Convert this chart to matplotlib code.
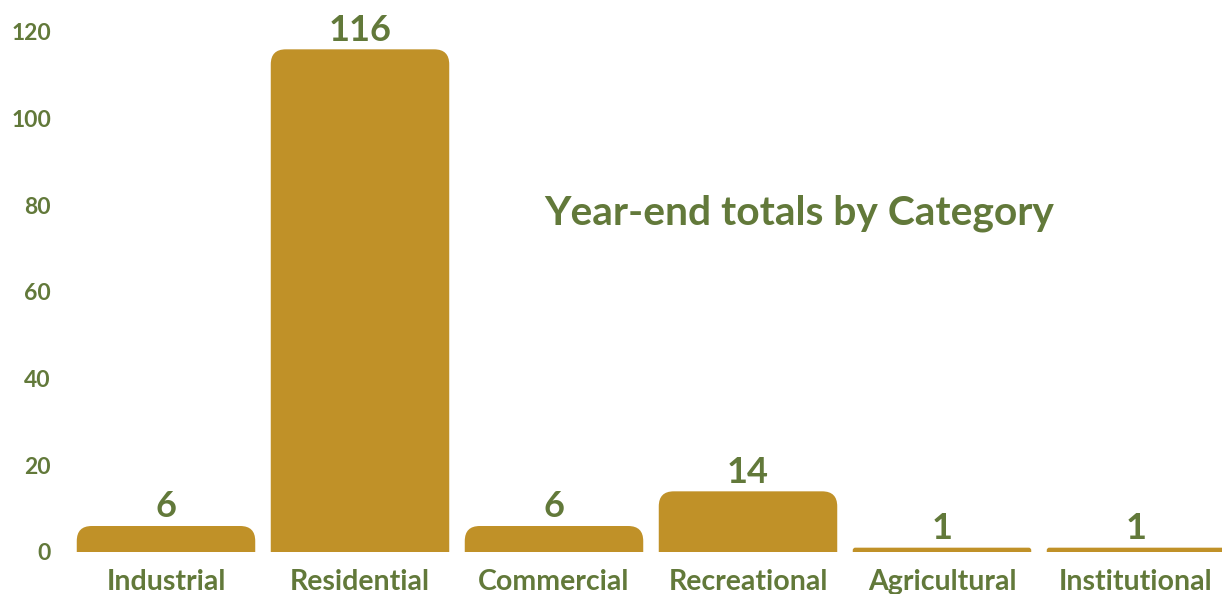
import matplotlib
matplotlib.use("Agg")
import matplotlib.pyplot as plt
from matplotlib.patches import FancyBboxPatch

categories = ["Industrial", "Residential", "Commercial", "Recreational", "Agricultural", "Institutional"]
totals = [6, 116, 6, 14, 1, 1]
y_ticks = [0, 20, 40, 60, 80, 100, 120]

GREEN = "#62793a"
GOLD = "#c09128"
DPI = 100
W, H = 1222, 594

plt.rcParams["font.family"] = ["Lato", "DejaVu Sans"]
plt.rcParams["font.weight"] = "bold"

fig = plt.figure(figsize=(W / DPI, H / DPI), dpi=DPI)
# axes runs a little past the right edge, last bar is cut in the original
ax_left, ax_right, ax_bottom, ax_top = 69, 1233, 552, 32
ax = fig.add_axes([ax_left / W, 1 - ax_bottom / H, (ax_right - ax_left) / W, (ax_bottom - ax_top) / H])

x = list(range(len(categories)))
bars = ax.bar(x, totals, width=0.92, color=GOLD)
ax.set_xlim(-0.5, len(categories) - 0.5)
ax.set_ylim(0, 120)

# swap plain bars for ones with rounded tops
px_per_x = (ax_right - ax_left) / (len(categories))
px_per_y = (ax_bottom - ax_top) / 120
aspect = px_per_x / px_per_y
for b in bars:
    bx, bw, bh = b.get_x(), b.get_width(), b.get_height()
    r_y = min(15 / px_per_y, bh * 0.6)
    r_x = r_y / aspect
    p = FancyBboxPatch((bx, -r_y), bw, bh + r_y,
                       boxstyle=f"round,pad=0,rounding_size={r_x}",
                       mutation_aspect=aspect, facecolor=GOLD, edgecolor="none",
                       clip_on=True)
    ax.add_patch(p)
    b.remove()
    ax.annotate(str(bh if bh != int(bh) else int(bh)), (bx + bw / 2, bh),
                xytext=(0, 2), textcoords="offset points", ha="center", va="bottom",
                fontsize=26, fontweight="bold", color=GREEN, annotation_clip=False)

ax.set_yticks(y_ticks)
ax.set_xticks(x)
ax.set_xticklabels(categories)
ax.tick_params(axis="y", length=0, pad=13, labelsize=16.5, labelcolor=GREEN)
ax.tick_params(axis="x", length=0, pad=12, labelsize=20.5, labelcolor=GREEN)
for lab in ax.get_xticklabels() + ax.get_yticklabels():
    lab.set_fontweight("bold")
for s in ax.spines.values():
    s.set_visible(False)

fig.text(799 / W, 1 - 213 / H, "Year-end totals by Category", ha="center", va="center",
         fontsize=29.3, fontweight="bold", color=GREEN)

fig.savefig("out.png", dpi=DPI, facecolor="white")
